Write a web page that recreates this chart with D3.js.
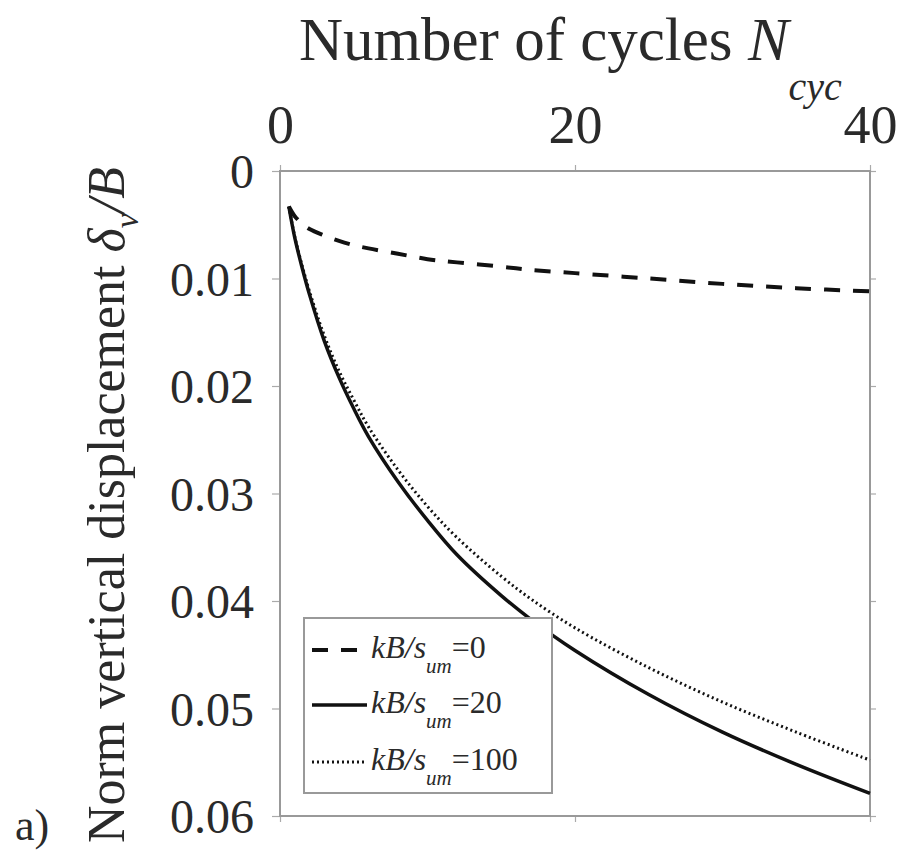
<!DOCTYPE html>
<html>
<head>
<meta charset="utf-8">
<script src="https://cdn.jsdelivr.net/npm/d3@7"></script>
<style>
  body { margin: 0; background: #fff; }
  svg text { font-family: "Liberation Serif", "Times New Roman", Times, serif; fill: #2a2a2a; }
</style>
</head>
<body>
<script>
// values
var cycles   = [0.6, 1, 1.5, 2, 3, 4, 5, 6, 8, 10, 12, 15, 17, 20, 25, 30, 35, 40];
var disp0    = [0.0033, 0.0042, 0.0049, 0.0054, 0.0060, 0.0065, 0.0069, 0.0072, 0.0077, 0.0082, 0.0085, 0.0089, 0.0092, 0.0095, 0.0100, 0.0105, 0.0109, 0.0112];
var disp20   = [0.0033, 0.0062, 0.0090, 0.0115, 0.0158, 0.0192, 0.0221, 0.0247, 0.0289, 0.0325, 0.0357, 0.0395, 0.0417, 0.0446, 0.0487, 0.0522, 0.0552, 0.0579];
var disp100  = [0.0033, 0.0061, 0.0088, 0.0112, 0.0153, 0.0186, 0.0213, 0.0238, 0.0278, 0.0312, 0.0341, 0.0377, 0.0398, 0.0425, 0.0462, 0.0494, 0.0522, 0.0548];
var xTicks   = [0, 20, 40];
var yTicks   = [0, 0.01, 0.02, 0.03, 0.04, 0.05, 0.06];
var legendKB = ["0", "20", "100"];

var serif = "'Liberation Serif', 'Times New Roman', Times, serif";
var width = 897, height = 854;
var svg = d3.select("body").append("svg")
    .attr("width", width)
    .attr("height", height)
    .attr("font-family", serif);

var x = d3.scaleLinear().domain([0, 40]).range([280, 870]);
var y = d3.scaleLinear().domain([0, 0.06]).range([171, 816]);

var tickCol = "#aaa";

// axes (ticks only, frame drawn after)
var gTop = svg.append("g").attr("transform", "translate(0," + y(0) + ")")
    .call(d3.axisTop(x).tickValues(xTicks).tickSize(6).tickPadding(22).tickFormat(d3.format("d")));
var gBot = svg.append("g").attr("transform", "translate(0," + y(0.06) + ")")
    .call(d3.axisBottom(x).tickValues(xTicks).tickSize(6).tickFormat(""));
var gLeft = svg.append("g").attr("transform", "translate(" + x(0) + ",0)")
    .call(d3.axisLeft(y).tickValues(yTicks).tickSize(8).tickPadding(18)
      .tickFormat(function(d){ return d === 0 ? "0" : d3.format(".2f")(d); }));
var gRight = svg.append("g").attr("transform", "translate(" + x(40) + ",0)")
    .call(d3.axisRight(y).tickValues(yTicks).tickSize(6).tickFormat(""));

[gTop, gBot, gLeft, gRight].forEach(function(g){
  g.attr("font-family", serif);
  g.select(".domain").remove();
  g.selectAll(".tick line").attr("stroke", tickCol).attr("stroke-width", 1.2);
  g.selectAll("text").attr("font-family", serif).style("fill", "#2a2a2a");
});
gTop.selectAll("text").attr("font-size", 54);
gLeft.selectAll("text").attr("font-size", 48).attr("dy", "0.35em");

// frame
svg.append("rect")
    .attr("x", x(0)).attr("y", y(0))
    .attr("width", x(40) - x(0)).attr("height", y(0.06) - y(0))
    .attr("fill", "none").attr("stroke", "#999").attr("stroke-width", 2);

var line = d3.line()
    .x(function(d){ return x(d[0]); })
    .y(function(d){ return y(d[1]); })
    .curve(d3.curveCatmullRom);

function pts(vals){ return cycles.map(function(c, i){ return [c, vals[i]]; }); }

var series = [
  { vals: disp0,   dash: "16,13", w: 4 },
  { vals: disp20,  dash: null,    w: 3.5 },
  { vals: disp100, dash: "2,3",   w: 3 }
];

series.forEach(function(s){
  svg.append("path")
    .attr("d", line(pts(s.vals)))
    .attr("fill", "none")
    .attr("stroke", "#111")
    .attr("stroke-width", s.w)
    .attr("stroke-dasharray", s.dash);
});

// legend
var leg = svg.append("g");
leg.append("rect")
    .attr("x", 304).attr("y", 618).attr("width", 248).attr("height", 175)
    .attr("fill", "#fff").attr("stroke", "#999").attr("stroke-width", 2);

var rowY = [650, 705, 762];
series.forEach(function(s, i){
  leg.append("line")
    .attr("x1", 312).attr("x2", 367)
    .attr("y1", rowY[i]).attr("y2", rowY[i])
    .attr("stroke", "#111").attr("stroke-width", s.w)
    .attr("stroke-dasharray", s.dash);
  var t = leg.append("text")
    .attr("x", 371).attr("y", rowY[i] + 8)
    .attr("font-size", 32);
  t.append("tspan").attr("font-style", "italic").text("kB/s");
  t.append("tspan").attr("font-style", "italic").attr("font-size", 21).attr("dy", 15).text("um");
  t.append("tspan").attr("dy", -15).text("=" + legendKB[i]);
});

// x title
var xt = svg.append("text").attr("x", 299).attr("y", 60).attr("font-size", 61);
xt.append("tspan").text("Number of cycles ");
xt.append("tspan").attr("font-style", "italic").text("N");
xt.append("tspan").attr("font-style", "italic").attr("font-size", 40).attr("dy", 40).text("cyc");

// y title
var yt = svg.append("text")
    .attr("transform", "translate(124,843) rotate(-90)")
    .attr("font-size", 52);
yt.append("tspan").text("Norm vertical displacement  ");
yt.append("tspan").attr("font-style", "italic").text("δ");
yt.append("tspan").attr("font-style", "italic").attr("font-size", 34).attr("dy", 14).text("v");
yt.append("tspan").attr("font-style", "italic").attr("dy", -14).text("/B");

svg.append("text").attr("x", 15).attr("y", 840).attr("font-size", 44).text("a)");
</script>
</body>
</html>
